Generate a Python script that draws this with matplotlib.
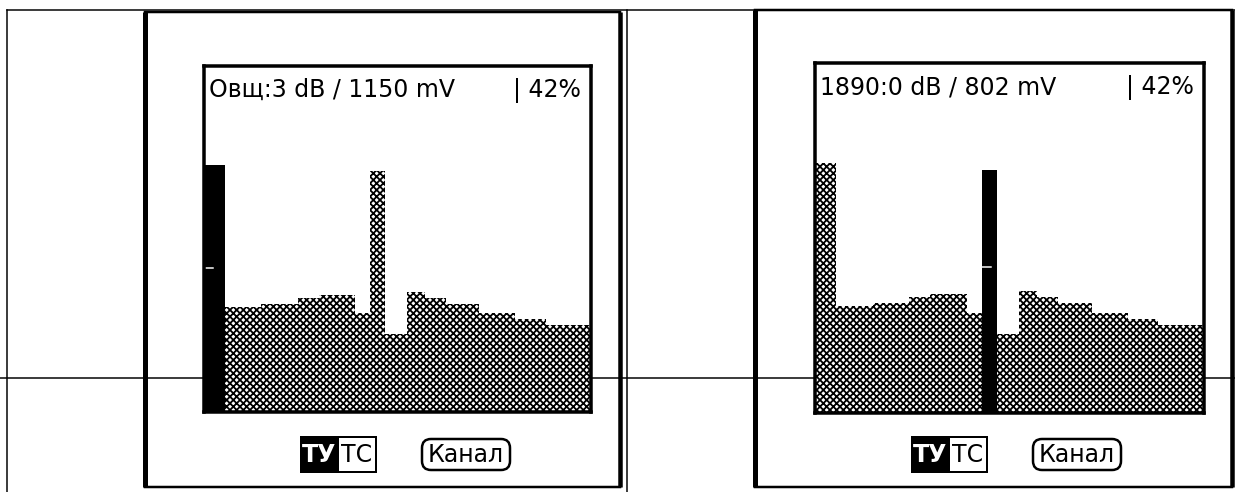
import numpy as np
import matplotlib
matplotlib.use('Agg')
import matplotlib.pyplot as plt
from matplotlib.patches import Rectangle, FancyBboxPatch

plt.rcParams['font.family'] = ['DejaVu Sans']
plt.rcParams['hatch.linewidth'] = 1.3

# spectrum columns (instrument screen pixels, 128 wide) and their levels
edges = [0, 7, 19, 31, 38, 50, 55, 60, 67, 73, 80, 91, 103, 113, 128]
levels = [82, 35, 36, 38, 39, 33, 80, 26, 40, 38, 36, 33, 31, 29]
marker_level = 48

headers = ['Овщ:3 dB / 1150 mV', '1890:0 dB / 802 mV']
percent = '42%'
selected = [0, 6]          # column shown solid black on each screen
buttons = ['ТУ', 'ТС', 'Канал']

W, H = 1235, 492
fig = plt.figure(figsize=(W / 100, H / 100), dpi=100)


def px_axes(x0, y0, x1, y1):
    return fig.add_axes([x0 / W, 1 - y1 / H, (x1 - x0) / W, (y1 - y0) / H])


def lw(px):
    return px * 0.72


# background: lines behind the screens
bg = px_axes(0, 0, W, H)
bg.set_xlim(0, W)
bg.set_ylim(H, 0)
bg.axis('off')
bg.plot([0, W], [378, 378], color='black', lw=lw(1.5))

screens = [(204, 66, 591, 412), (815, 63, 1204, 413)]
devices = [(145, 12, 620, 487), (755, 10, 1232, 487)]

widths = np.diff(edges)
for k, (x0, y0, x1, y1) in enumerate(screens):
    ax = px_axes(x0, y0, x1, y1)
    ax.set_facecolor('white')
    ax.set_xlim(0, 128)
    ax.set_ylim(0, 115)
    ax.set_xticks([])
    ax.set_yticks([])
    for s in ax.spines.values():
        s.set_linewidth(lw(3.5))
    for i, (e, w, v) in enumerate(zip(edges[:-1], widths, levels)):
        if i == selected[k]:
            ax.bar(e, v, width=w, align='edge', color='black', lw=0)
        else:
            ax.bar(e, v, width=w, align='edge', facecolor='white',
                   edgecolor='black', hatch='xxxxx', lw=0)
    s0 = selected[k]
    ax.plot([edges[s0], edges[s0] + 3], [marker_level] * 2, color='white', lw=lw(1.5))
    ax.text(0.012, 0.965, headers[k], transform=ax.transAxes, ha='left', va='top',
            fontsize=17)
    ax.text(0.975, 0.965, '| ' + percent, transform=ax.transAxes, ha='right', va='top',
            fontsize=17)

# overlay: device outlines, table lines and buttons
ov = px_axes(0, 0, W, H)
ov.set_xlim(0, W)
ov.set_ylim(H, 0)
ov.axis('off')
ov.set_facecolor('none')

ov.plot([7, W], [10, 10], color='black', lw=lw(1.5))
ov.plot([7, 7], [10, H], color='black', lw=lw(1.5))
ov.plot([627, 627], [10, H], color='black', lw=lw(1.5))

for (dx0, dy0, dx1, dy1) in devices:
    ov.plot([dx0, dx0], [dy0, dy1], color='black', lw=lw(5), solid_capstyle='butt')
    ov.plot([dx1, dx1], [dy0, dy1], color='black', lw=lw(4.5), solid_capstyle='butt')
    ov.plot([dx0, dx1], [dy0, dy0], color='black', lw=lw(2.5))
    ov.plot([dx0, dx1], [dy1, dy1], color='black', lw=lw(2.5))

for (x0, y0, x1, y1) in screens:
    by0, by1 = 437, 472
    tx = x0 + 97
    ov.add_patch(Rectangle((tx, by0), 37, by1 - by0, facecolor='black',
                           edgecolor='black', lw=lw(2)))
    ov.add_patch(Rectangle((tx + 37, by0), 38, by1 - by0, facecolor='white',
                           edgecolor='black', lw=lw(2)))
    ov.text(tx + 18.5, (by0 + by1) / 2 + 1, buttons[0], color='white', ha='center',
            va='center', fontsize=17, fontweight='bold')
    ov.text(tx + 56, (by0 + by1) / 2 + 1, buttons[1], color='black', ha='center',
            va='center', fontsize=17)
    kx = x0 + 214
    ov.add_patch(FancyBboxPatch((kx + 4, by0 + 2), 88, by1 - by0 - 4,
                                boxstyle='round,pad=0,rounding_size=9',
                                facecolor='white', edgecolor='black', lw=lw(2.5)))
    ov.text(kx + 48, (by0 + by1) / 2 + 1, buttons[2], color='black', ha='center',
            va='center', fontsize=17)

fig.savefig('out.png', dpi=100, facecolor='white')
